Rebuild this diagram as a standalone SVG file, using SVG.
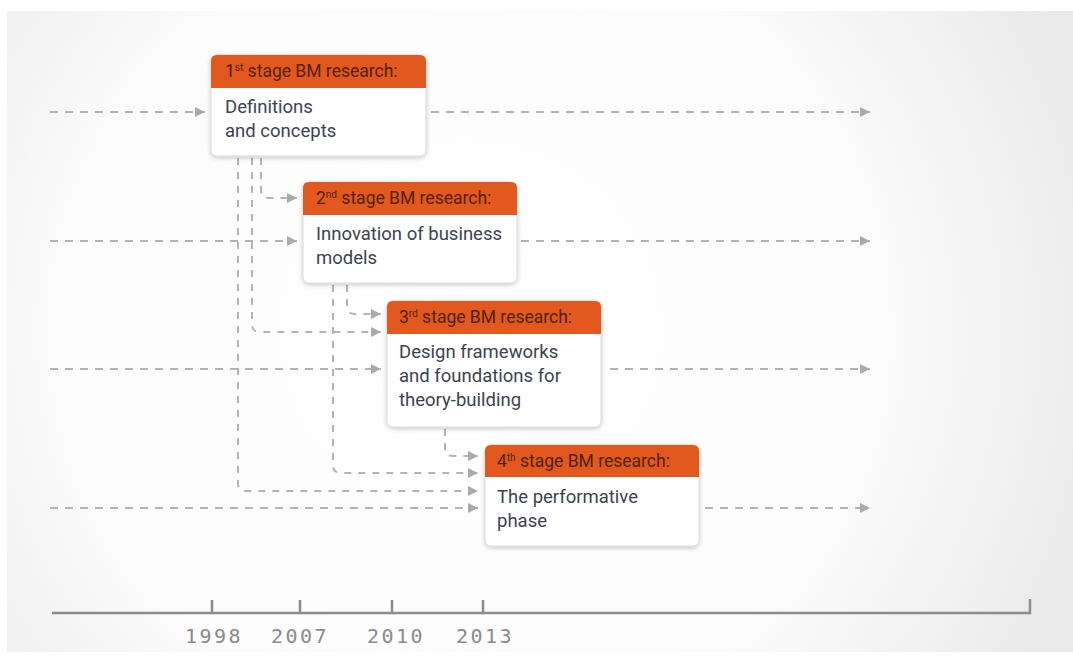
<svg xmlns="http://www.w3.org/2000/svg" width="1073" height="657" viewBox="0 0 1073 657">
<defs>
<radialGradient id="bg" cx="470" cy="330" r="660" gradientUnits="userSpaceOnUse">
<stop offset="0" stop-color="#ffffff"/>
<stop offset="0.6" stop-color="#fcfcfc"/>
<stop offset="1" stop-color="#e9e9e9"/>
</radialGradient>
<marker id="arr" markerUnits="userSpaceOnUse" markerWidth="11" markerHeight="11" refX="10" refY="5" orient="auto">
<path d="M0,0 L10,5 L0,10 z" fill="#aaaaaa"/>
</marker>
<filter id="sh" x="-10%" y="-10%" width="120%" height="130%">
<feDropShadow dx="0" dy="1.5" stdDeviation="2" flood-color="#000" flood-opacity="0.22"/>
</filter>
</defs>
<style>
.dl{fill:none;stroke:#b3b3b3;stroke-width:2;stroke-dasharray:8 7;marker-end:url(#arr)}
.vl{fill:none;stroke:#b3b3b3;stroke-width:2;stroke-dasharray:7 7;marker-end:url(#arr)}
.box{fill:#ffffff;stroke:#d9d9d9;stroke-width:1;filter:url(#sh)}
.hd{fill:#e3581c}
.ht{font-family:Roboto,"Liberation Sans",sans-serif;font-size:17.5px;fill:#4e2211}
.sup{font-size:10px}
.bt{font-family:Roboto,"Liberation Sans",sans-serif;font-size:18.5px;fill:#3b4450}
.yr{font-family:"DejaVu Sans Mono","Liberation Mono",monospace;font-size:20px;fill:#8a8a8a;letter-spacing:2.5px;text-anchor:middle}
.ax{fill:none;stroke:#8c8c8c;stroke-width:2.5}
</style>
<rect x="0" y="0" width="1073" height="657" fill="#ffffff"/>
<rect x="7" y="11" width="1066" height="641" fill="url(#bg)"/>

<g id="connectors">
<path class="dl" d="M50,112 H205"/>
<path class="dl" d="M431,112 H870"/>
<path class="dl" d="M50,241 H297"/>
<path class="dl" d="M521,241 H870"/>
<path class="dl" d="M50,369 H381"/>
<path class="dl" d="M610,369 H870"/>
<path class="dl" d="M50,508 H478"/>
<path class="dl" d="M705,508 H870"/>
<path class="vl" d="M261,158 V190 Q261,198 269,198 H297"/>
<path class="vl" d="M252,158 V324 Q252,332 260,332 H381"/>
<path class="vl" d="M238,158 V483 Q238,491 246,491 H478"/>
<path class="vl" d="M347,285 V306 Q347,314 355,314 H381"/>
<path class="vl" d="M333,285 V465 Q333,473 341,473 H478"/>
<path class="vl" d="M445,429 V448 Q445,456 453,456 H478"/>
</g>

<g id="node1">
<rect class="box" x="211" y="55" width="215" height="101" rx="6"/>
<path class="hd" d="M211,88 V61 Q211,55 217,55 H420 Q426,55 426,61 V88 Z"/>
<text class="ht" x="225" y="77">1<tspan class="sup" dy="-6">st</tspan><tspan dy="6"> stage BM research:</tspan></text>
<text class="bt" x="225" y="113">Definitions</text>
<text class="bt" x="225" y="137">and concepts</text>
</g>

<g id="node2">
<rect class="box" x="303" y="182" width="214" height="101" rx="6"/>
<path class="hd" d="M303,215 V188 Q303,182 309,182 H511 Q517,182 517,188 V215 Z"/>
<text class="ht" x="316" y="204">2<tspan class="sup" dy="-6">nd</tspan><tspan dy="6"> stage BM research:</tspan></text>
<text class="bt" x="316" y="240">Innovation of business</text>
<text class="bt" x="316" y="264">models</text>
</g>

<g id="node3">
<rect class="box" x="387" y="301" width="214" height="126" rx="6"/>
<path class="hd" d="M387,334 V307 Q387,301 393,301 H595 Q601,301 601,307 V334 Z"/>
<text class="ht" x="399" y="323">3<tspan class="sup" dy="-6">rd</tspan><tspan dy="6"> stage BM research:</tspan></text>
<text class="bt" x="399" y="358">Design frameworks</text>
<text class="bt" x="399" y="382">and foundations for</text>
<text class="bt" x="399" y="406">theory-building</text>
</g>

<g id="node4">
<rect class="box" x="485" y="445" width="214" height="101" rx="6"/>
<path class="hd" d="M485,477 V451 Q485,445 491,445 H693 Q699,445 699,451 V477 Z"/>
<text class="ht" x="497" y="467">4<tspan class="sup" dy="-6">th</tspan><tspan dy="6"> stage BM research:</tspan></text>
<text class="bt" x="497" y="503">The performative</text>
<text class="bt" x="497" y="527">phase</text>
</g>

<g id="axis">
<path class="ax" d="M52,613 H1030 V599"/>
<path class="ax" d="M212,613 V600 M300,613 V600 M392,613 V600 M483,613 V600"/>
<text class="yr" x="214" y="643">1998</text>
<text class="yr" x="300" y="643">2007</text>
<text class="yr" x="396" y="643">2010</text>
<text class="yr" x="485" y="643">2013</text>
</g>
</svg>
